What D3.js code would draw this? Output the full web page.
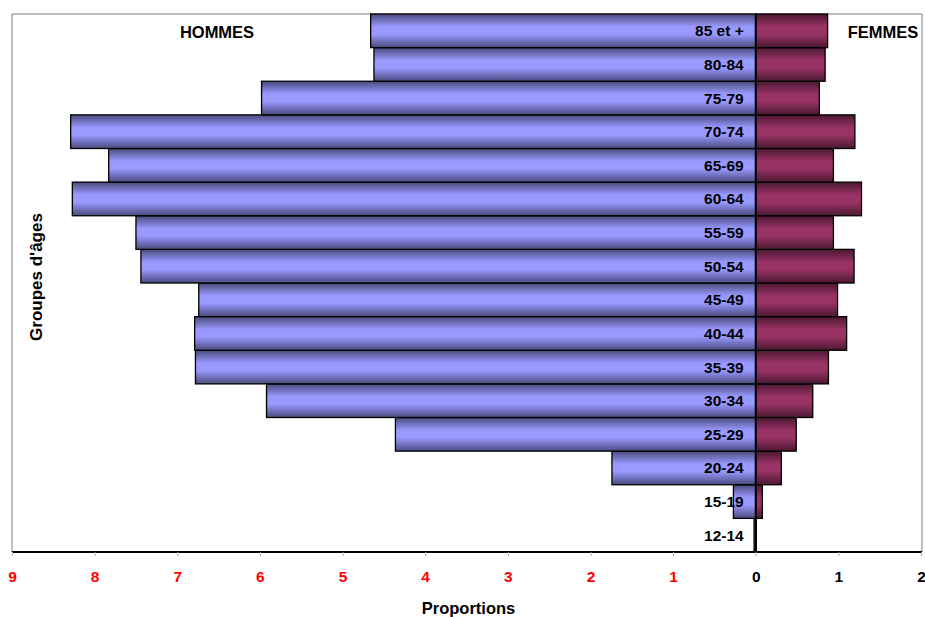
<!DOCTYPE html>
<html><head><meta charset="utf-8">
<script src="https://cdn.jsdelivr.net/npm/d3@7"></script>
<style>body{margin:0;background:#fff}svg{display:block;font-family:"Liberation Sans",Arial,sans-serif}</style>
</head><body><svg id="c" width="925" height="617"></svg>
<script>
const ageGroups = ["12-14","15-19","20-24","25-29","30-34","35-39","40-44","45-49","50-54","55-59","60-64","65-69","70-74","75-79","80-84","85 et +"];
const hommes = [0.02,0.27,1.74,4.36,5.92,6.78,6.79,6.74,7.44,7.50,8.27,7.83,8.29,5.98,4.62,4.66];
const femmes = [0.005,0.08,0.31,0.49,0.69,0.88,1.10,0.99,1.19,0.94,1.28,0.94,1.20,0.77,0.84,0.87];
const xTicks = [-9,-8,-7,-6,-5,-4,-3,-2,-1,0,1,2];

const svg = d3.select("#c");
const L = 12, R = 921, T = 14, B = 552;
const x = d3.scaleLinear().domain([-9, 2]).range([L, R]);
const y = d3.scaleBand().domain(ageGroups.slice().reverse()).range([T, B]).padding(0);

const defs = svg.append("defs");
function grad(id, dark, light) {
  const g = defs.append("linearGradient").attr("id", id).attr("x1", 0).attr("y1", 0).attr("x2", 0).attr("y2", 1);
  [[0, dark],[0.38, light],[0.6, light],[1, dark]].forEach(([o,c]) => g.append("stop").attr("offset", o).attr("stop-color", c));
}
grad("gH", "#4a4a7e", "#9999ff");
grad("gF", "#4a1830", "#993366");

// plot area border
svg.append("path").attr("d", `M${L},${B}V${T}H${R+1}V${B}`).attr("fill", "none").attr("stroke", "#808080").attr("stroke-width", 1);

// men bars
svg.append("g").selectAll("rect").data(ageGroups).join("rect")
  .attr("x", (d,i) => x(-hommes[i]))
  .attr("y", d => y(d))
  .attr("width", (d,i) => x(0) - x(-hommes[i]))
  .attr("height", y.bandwidth())
  .attr("fill", "url(#gH)").attr("stroke", "#000").attr("stroke-width", 1.3);

// women bars
svg.append("g").selectAll("rect").data(ageGroups).join("rect")
  .attr("x", x(0))
  .attr("y", d => y(d))
  .attr("width", (d,i) => x(femmes[i]) - x(0))
  .attr("height", y.bandwidth())
  .attr("fill", "url(#gF)").attr("stroke", "#000").attr("stroke-width", 1.3);

// zero line
svg.append("line").attr("x1", x(0)).attr("x2", x(0)).attr("y1", T).attr("y2", B).attr("stroke", "#000").attr("stroke-width", 2);

// category labels
svg.append("g").selectAll("text").data(ageGroups).join("text")
  .attr("x", x(0) - 12)
  .attr("y", d => y(d) + y.bandwidth()/2 + 5.5)
  .attr("text-anchor", "end").attr("font-size", 15.5).attr("font-weight", "bold").attr("fill", "#000")
  .text(d => d);

// x axis
const ax = svg.append("g").attr("transform", `translate(0,${B})`)
  .call(d3.axisBottom(x).tickValues(xTicks).tickSize(4).tickPadding(15).tickFormat(d => Math.abs(d)));
ax.select(".domain").attr("stroke", "#000").attr("stroke-width", 2).attr("d", `M${L},0H${R+1}`);
ax.selectAll(".tick line").attr("stroke", "#aaa");
ax.selectAll(".tick text").attr("font-size", 15.5).attr("font-weight", "bold")
  .attr("font-family", '"Liberation Sans",Arial,sans-serif')
  .attr("fill", d => d < 0 ? "#ff0000" : "#000");

// titles
svg.append("text").attr("x", (L+R)/2 + 2).attr("y", 614).attr("text-anchor", "middle")
  .attr("font-size", 16.5).attr("font-weight", "bold").text("Proportions");
svg.append("text").attr("transform", `translate(42,277) rotate(-90)`).attr("text-anchor", "middle")
  .attr("font-size", 17).attr("font-weight", "bold").text("Groupes d'âges");
svg.append("text").attr("x", 217).attr("y", 38).attr("text-anchor", "middle")
  .attr("font-size", 16.5).attr("font-weight", "bold").text("HOMMES");
svg.append("text").attr("x", 883).attr("y", 38).attr("text-anchor", "middle")
  .attr("font-size", 16.5).attr("font-weight", "bold").text("FEMMES");
</script></body></html>
